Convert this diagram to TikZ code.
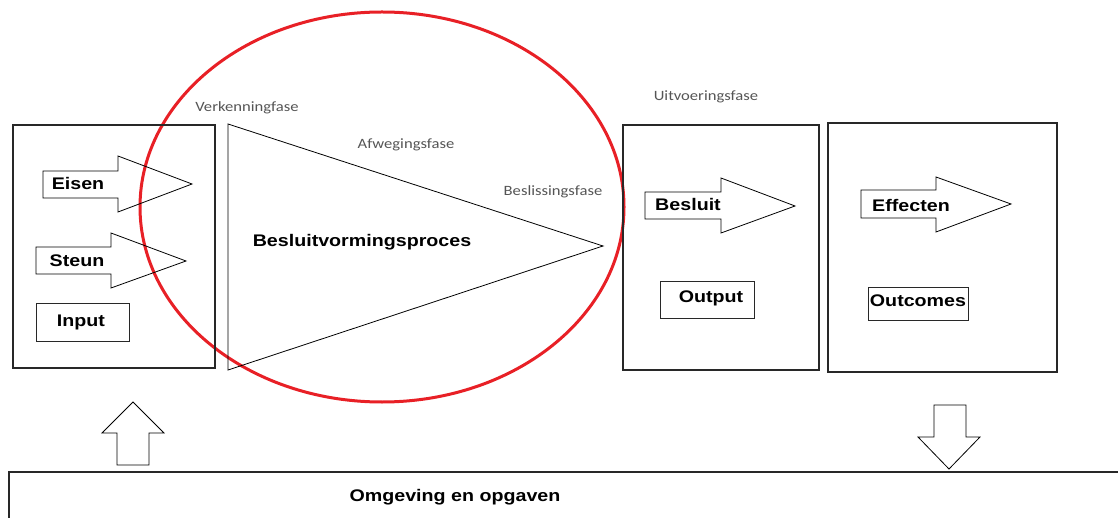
\documentclass[tikz,border=0pt]{standalone}
\usepackage{fontspec}
\newfontfamily\labfont[FakeStretch=1.17]{Liberation Sans}
\newfontfamily\phasefont[FakeStretch=1.17]{Carlito}
\definecolor{ringred}{RGB}{232,32,38}
\definecolor{phasegray}{RGB}{85,85,85}
\definecolor{linegray}{RGB}{40,40,40}
\tikzset{
  x=1pt, y=-1pt,
  lab/.style={font=\labfont\bfseries\fontsize{16.8}{19}\selectfont, inner sep=0pt},
  phase/.style={font=\phasefont\fontsize{14.2}{16}\selectfont, text=phasegray, inner sep=0pt},
  frame/.style={draw=linegray, line width=1.1pt},
  blk/.style={draw=black, line width=0.8pt, line join=miter},
}
\begin{document}
\begin{tikzpicture}
\useasboundingbox (0,0) rectangle (1118,518);
\clip (0,0) rectangle (1118,518);
% red ring
\draw[ringred, line width=3pt] (382,207) ellipse [x radius=242, y radius=195];
% left box
\draw[frame] (13,125) rectangle (215,368);
\draw[blk] (43,171) -- (118,171) -- (118,156) -- (192,184) -- (118,212) -- (118,198) -- (43,198) -- cycle;
\node[lab] (eisen) at (78,183) {Eisen};
\draw[blk] (36,247) -- (111,247) -- (111,233) -- (186,261) -- (111,288) -- (111,274) -- (36,274) -- cycle;
\node[lab] (steun) at (77,261) {Steun};
\draw[frame, line width=0.9pt] (36,303) rectangle (129,341);
\node[lab] (input) at (81,322) {Input};
% triangle
\draw[blk] (228,124) -- (603,246) -- (228,370) -- cycle;
\node[lab] (proces) at (362,242) {Besluitvormingsproces};
% phase labels
\node[phase] (verk) at (247,108) {Verkenningfase};
\node[phase] (afw) at (406,145) {Afwegingsfase};
\node[phase] (besl) at (553,192) {Beslissingsfase};
\node[phase] (uitv) at (706,97) {Uitvoeringsfase};
% middle box
\draw[frame] (623,125) rectangle (819,370);
\draw[blk] (645,192) -- (721,192) -- (721,178) -- (795,206) -- (721,233) -- (721,219) -- (645,219) -- cycle;
\node[lab] (besluit) at (688,204) {Besluit};
\draw[frame, line width=0.9pt] (660,281) rectangle (754,318);
\node[lab] (output) at (711,298) {Output};
% right box
\draw[frame] (828,123) rectangle (1057,372);
\draw[blk] (861,190) -- (936,190) -- (936,177) -- (1011,204) -- (936,232) -- (936,218) -- (861,218) -- cycle;
\node[lab] (effecten) at (911,205) {Effecten};
\draw[frame, line width=0.9pt] (868,287) rectangle (968,320);
\node[lab] (outcomes) at (918,301) {Outcomes};
% vertical arrows
\draw[blk] (117,465) -- (117,433) -- (102,433) -- (133,402) -- (164,433) -- (149,433) -- (149,465) -- cycle;
\draw[blk] (934,405) -- (966,405) -- (966,437) -- (980,437) -- (949,469) -- (918,437) -- (934,437) -- cycle;
% bottom box
\draw[frame] (9,472) rectangle (1130,530);
\node[lab] (omgeving) at (455,497) {Omgeving en opgaven};
\end{tikzpicture}
\end{document}
